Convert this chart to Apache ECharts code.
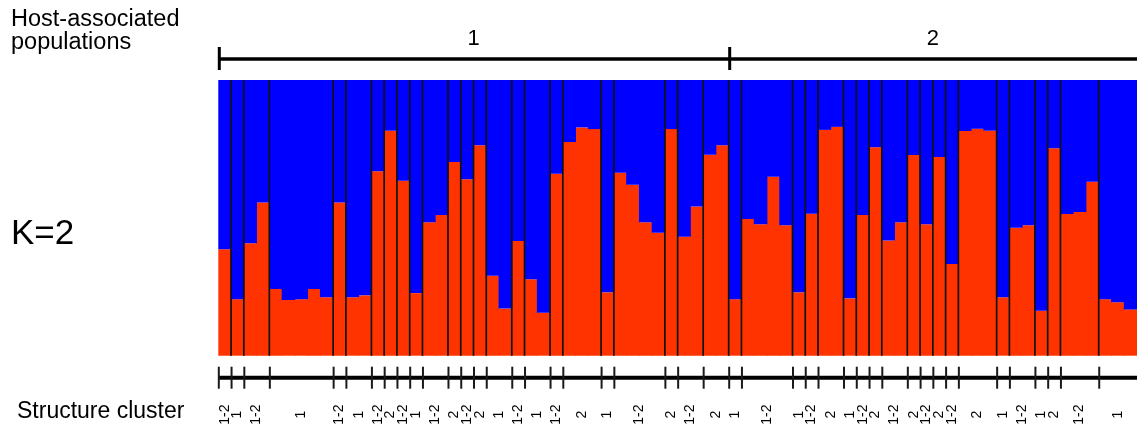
<!DOCTYPE html>
<html><head><meta charset="utf-8">
<script src="https://cdn.jsdelivr.net/npm/echarts@6/dist/echarts.min.js"></script>
<style>html,body{margin:0;padding:0;background:#fff}#c{width:1137px;height:428px}</style>
</head><body><div id="c"></div>
<script>
// ---- data ----
const individuals = ['i1','i2','i3','i4','i5','i6','i7','i8','i9','i10','i11','i12','i13','i14','i15','i16','i17','i18','i19','i20','i21','i22','i23','i24','i25','i26','i27','i28','i29','i30','i31','i32','i33','i34','i35','i36','i37','i38','i39','i40','i41','i42','i43','i44','i45','i46','i47','i48','i49','i50','i51','i52','i53','i54','i55','i56','i57','i58','i59','i60','i61','i62','i63','i64','i65','i66','i67','i68','i69','i70','i71','i72'];
// membership in red cluster (orange-red), blue = remainder
const redQ = [0.386,0.205,0.408,0.556,0.242,0.202,0.205,0.242,0.212,0.556,
              0.212,0.219,0.669,0.816,0.635,0.227,0.484,0.510,0.703,0.640,
              0.763,0.290,0.171,0.416,0.277,0.156,0.660,0.775,0.828,0.822,
              0.230,0.664,0.620,0.484,0.446,0.822,0.431,0.541,0.729,0.763,
              0.205,0.496,0.477,0.649,0.473,0.230,0.515,0.819,0.830,0.208,
              0.510,0.756,0.418,0.484,0.728,0.477,0.721,0.333,0.815,0.823,
              0.816,0.212,0.464,0.473,0.163,0.752,0.514,0.521,0.631,0.205,
              0.194,0.168];
const blueQ = redQ.map(v => +(1 - v).toFixed(3));
// sampling populations (number of individuals each) and their structure cluster
const popSizes = [1,1,2,5,1,2,1,1,1,1,2,1,1,1,2,1,2,1,3,1,4,1,2,2,1,4,1,1,2,1,1,1,2,1,1,1,1,3,1,2,1,1,3,3];
const popClusterLabels = ['1-2','1','1-2','1','1-2','1','1-2','2','1-2','1','1-2','2','1-2','2','1','1-2','1','1-2','2','1','1-2','2','1-2','2','1','1-2','1','1-2','2','1','1-2','2','1-2','2','1-2','2','1-2','2','1','1-2','1','2','1-2','1'];
// host-associated populations
const hostPopSizes = [40, 32];
const hostPopLabels = ['1', '2'];

// ---- derived positions (in individual units) ----
function cum(sizes){ const b=[0]; sizes.forEach(s=>b.push(b[b.length-1]+s)); return b; }
const popBounds = cum(popSizes);
const innerBounds = popBounds.slice(1, -1);
const popCenters = popSizes.map((s,i)=>popBounds[i] + s/2);
const hostBounds = cum(hostPopSizes);
const hostCenters = hostPopSizes.map((s,i)=>hostBounds[i] + s/2);
const N = individuals.length;

const RED = '#FF3300', BLUE = '#0000FF';
const FONT = '"Liberation Sans", Arial, sans-serif';
const chart = echarts.init(document.getElementById('c'));

chart.setOption({
  animation: false,
  backgroundColor: '#fff',
  grid: { left: 218.3, top: 80, width: 922.3, height: 275.7 },
  xAxis: [
    { type: 'category', data: individuals, show: false, boundaryGap: true },
    { type: 'value', min: 0, max: N, show: false }
  ],
  yAxis: [{ type: 'value', min: 0, max: 1, show: false }],
  graphic: [
    { type: 'text', x: 11, y: 20, style: { text: 'Host-associated', fontSize: 23.5, fontFamily: FONT, fill: '#000', verticalAlign: 'middle' } },
    { type: 'text', x: 11, y: 43, style: { text: 'populations', fontSize: 23.5, fontFamily: FONT, fill: '#000', verticalAlign: 'middle' } },
    { type: 'text', x: 11, y: 234, style: { text: 'K=2', fontSize: 35, fontFamily: FONT, fill: '#000', verticalAlign: 'middle' } },
    { type: 'text', x: 17, y: 412, style: { text: 'Structure cluster', fontSize: 23, fontFamily: FONT, fill: '#000', verticalAlign: 'middle' } }
  ],
  series: [
    { type: 'bar', stack: 'q', data: redQ, barWidth: 13.6, itemStyle: { color: RED } },
    { type: 'bar', stack: 'q', data: blueQ, barWidth: 13.6, itemStyle: { color: BLUE } },
    // population separators inside the plot
    { type: 'custom', xAxisIndex: 1, data: innerBounds.map(b => [b, 0]), z: 5,
      renderItem: (p, api) => {
        const t = api.coord([api.value(0), 1]), b = api.coord([api.value(0), 0]);
        return { type: 'line', shape: { x1: t[0], y1: t[1], x2: b[0], y2: b[1] }, style: { stroke: '#111', lineWidth: 1.7 } };
      } },
    // bottom scale line
    { type: 'custom', xAxisIndex: 1, data: [[0, N]], z: 5,
      renderItem: (p, api) => {
        const a = api.coord([api.value(0), 0]), b = api.coord([api.value(1), 0]);
        return { type: 'line', shape: { x1: a[0], y1: a[1] + 22, x2: b[0], y2: b[1] + 22 }, style: { stroke: '#000', lineWidth: 4 } };
      } },
    // bottom ticks
    { type: 'custom', xAxisIndex: 1, data: popBounds.slice(0, -1).map(b => [b, 0]), z: 6,
      renderItem: (p, api) => {
        const b = api.coord([api.value(0), 0]);
        return { type: 'line', shape: { x1: b[0] + 0.5, y1: b[1] + 11, x2: b[0] + 0.5, y2: b[1] + 33 }, style: { stroke: '#1a1a1a', lineWidth: 2 } };
      } },
    // structure cluster labels
    { type: 'custom', xAxisIndex: 1, data: popCenters.map(c => [c, 0]), z: 6,
      renderItem: (p, api) => {
        const b = api.coord([api.value(0), 0]);
        return { type: 'text', x: b[0], y: b[1] + 59, rotation: Math.PI / 2,
          style: { text: popClusterLabels[p.dataIndex], fontSize: 14, fontFamily: FONT, fill: '#000', align: 'center', verticalAlign: 'middle' } };
      } },
    // host population bracket line
    { type: 'custom', xAxisIndex: 1, data: [[0, N]], z: 5,
      renderItem: (p, api) => {
        const a = api.coord([api.value(0), 1]), b = api.coord([api.value(1), 1]);
        return { type: 'line', shape: { x1: a[0], y1: a[1] - 21, x2: b[0], y2: b[1] - 21 }, style: { stroke: '#000', lineWidth: 3.5 } };
      } },
    // host bracket ticks
    { type: 'custom', xAxisIndex: 1, data: hostBounds.slice(0, -1).map(b => [b, 1]), z: 6,
      renderItem: (p, api) => {
        const t = api.coord([api.value(0), 1]);
        return { type: 'line', shape: { x1: t[0] + 1, y1: t[1] - 33, x2: t[0] + 1, y2: t[1] - 10 }, style: { stroke: '#000', lineWidth: 3 } };
      } },
    // host population labels
    { type: 'custom', xAxisIndex: 1, data: hostCenters.map(c => [c, 1]), z: 6,
      renderItem: (p, api) => {
        const t = api.coord([api.value(0), 1]);
        return { type: 'text', x: t[0], y: t[1] - 41,
          style: { text: hostPopLabels[p.dataIndex], fontSize: 22, fontFamily: FONT, fill: '#000', align: 'center', verticalAlign: 'middle' } };
      } }
  ]
});
</script>
</body></html>
